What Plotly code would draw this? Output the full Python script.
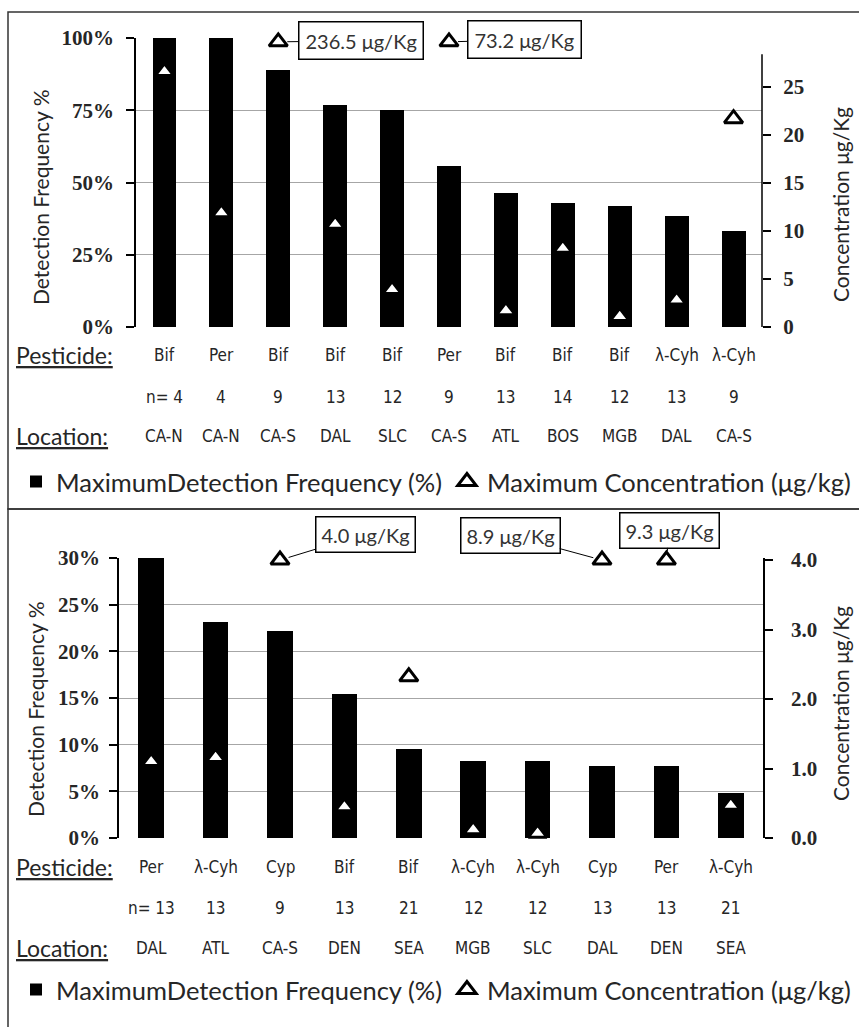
import plotly.graph_objects as go

W, H = 859, 1027

# ---------------- data: top panel ----------------
top_pesticide = ["Bif", "Per", "Bif", "Bif", "Bif", "Per", "Bif", "Bif", "Bif", "λ-Cyh", "λ-Cyh"]
top_n = [4, 4, 9, 13, 12, 9, 13, 14, 12, 13, 9]
top_location = ["CA-N", "CA-N", "CA-S", "DAL", "SLC", "CA-S", "ATL", "BOS", "MGB", "DAL", "CA-S"]
top_freq = [100, 100, 88.9, 76.9, 75.0, 55.6, 46.2, 42.9, 41.7, 38.5, 33.3]
top_conc = [26.6, 11.9, 236.5, 10.7, 3.9, 73.2, 1.7, 8.2, 1.1, 2.8, 21.7]

# ---------------- data: bottom panel ----------------
bot_pesticide = ["Per", "λ-Cyh", "Cyp", "Bif", "Bif", "λ-Cyh", "λ-Cyh", "Cyp", "Per", "λ-Cyh"]
bot_n = [13, 13, 9, 13, 21, 12, 12, 13, 13, 21]
bot_location = ["DAL", "ATL", "CA-S", "DEN", "SEA", "MGB", "SLC", "DAL", "DEN", "SEA"]
bot_freq = [30.8, 23.1, 22.2, 15.4, 9.5, 8.3, 8.3, 7.7, 7.7, 4.8]
bot_conc = [1.1, 1.16, 4.0, 0.45, 2.32, 0.12, 0.07, 8.9, 9.3, 0.47]

top_ticks_left = [0, 25, 50, 75, 100]
top_ticklabels_left = ["0%", "25%", "50%", "75%", "100%"]
top_ticks_right = [0, 5, 10, 15, 20, 25]
bot_ticks_left = [0, 5, 10, 15, 20, 25, 30]
bot_ticklabels_left = ["0%", "5%", "10%", "15%", "20%", "25%", "30%"]
bot_ticks_right = [0, 1, 2, 3, 4]
bot_ticklabels_right = ["0.0", "1.0", "2.0", "3.0", "4.0"]

BAR_NAME = "MaximumDetection Frequency (%)"
TRI_NAME = "Maximum Concentration (μg/kg)"

# ---------------- layout helpers ----------------
def px(x):
    return x / W

def py(y):
    return 1 - y / H

TOP_CAP = 29.7     # off-scale concentrations drawn at the top of the axis
BOT_CAP = 4.0

TEXT = "#262626"
GRID = "#A6A6A6"
TICKFONT = dict(family="Liberation Serif", size=21, color=TEXT, weight="bold")
LABFONT = dict(family="DejaVu Sans Condensed, Lato, sans-serif", size=17, color=TEXT)
ROWFONT = dict(family="Lato", size=23, color=TEXT)
TITLEFONT = dict(family="Lato", size=21, color=TEXT)
LEGFONT = dict(family="Lato", size=25.5, color=TEXT)
BOXFONT = dict(family="Lato", size=20, color="#333333")

fig = go.Figure()

tx = list(range(len(top_freq)))
bx = list(range(len(bot_freq)))

fig.add_trace(go.Bar(x=tx, y=top_freq, width=0.42, marker=dict(color="black", line=dict(width=0)),
                     name=BAR_NAME, xaxis="x", yaxis="y", legend="legend"))
fig.add_trace(go.Scatter(x=tx, y=[min(v, TOP_CAP) for v in top_conc], mode="markers",
                         marker=dict(symbol="triangle-up", size=16, color="white",
                                     line=dict(color="black", width=3)),
                         cliponaxis=False, name=TRI_NAME, xaxis="x", yaxis="y2", legend="legend"))

fig.add_trace(go.Bar(x=bx, y=bot_freq, width=0.40, marker=dict(color="black", line=dict(width=0)),
                     name=BAR_NAME, xaxis="x2", yaxis="y3", legend="legend2"))
fig.add_trace(go.Scatter(x=bx, y=[min(v, BOT_CAP) for v in bot_conc], mode="markers",
                         marker=dict(symbol="triangle-up", size=16, color="white",
                                     line=dict(color="black", width=3)),
                         cliponaxis=False, name=TRI_NAME, xaxis="x2", yaxis="y4", legend="legend2"))

axis_common = dict(showline=True, linecolor="black", linewidth=1.5, ticks="outside",
                   ticklen=8, tickcolor="black", tickwidth=1.5, tickfont=TICKFONT,
                   zeroline=False, automargin=False)
xcommon = dict(showticklabels=False, showgrid=False, zeroline=False, showline=False,
               ticks="", automargin=False)

fig.update_layout(
    width=W, height=H, margin=dict(l=0, r=0, t=0, b=0, autoexpand=False),
    paper_bgcolor="white", plot_bgcolor="white",
    bargap=0,
    xaxis=dict(domain=[px(136), px(762)], range=[-0.5, len(tx) - 0.5], anchor="y", **xcommon),
    yaxis=dict(domain=[py(327), py(38)], range=[0, 100], tickvals=top_ticks_left,
               ticktext=top_ticklabels_left, showgrid=True, gridcolor=GRID, gridwidth=1,
               ticklabelstandoff=8, anchor="x", **axis_common),
    yaxis2=dict(overlaying="y", side="right", range=[0, 30.1], tickvals=top_ticks_right,
                showgrid=False, anchor="x", ticklabelstandoff=8,
                **{**axis_common, "showline": False}),
    xaxis2=dict(domain=[px(119), px(763)], range=[-0.5, len(bx) - 0.5], anchor="y3", **xcommon),
    yaxis3=dict(domain=[py(838), py(558)], range=[0, 30], tickvals=bot_ticks_left,
                ticktext=bot_ticklabels_left, showgrid=True, gridcolor=GRID, gridwidth=1,
                ticklabelstandoff=5, anchor="x2", **axis_common),
    yaxis4=dict(overlaying="y3", side="right", range=[0, 4.03], tickvals=bot_ticks_right,
                ticktext=bot_ticklabels_right, showgrid=False, anchor="x2",
                ticklabelstandoff=14, **axis_common),
    legend=dict(orientation="h", x=px(16), y=py(482), xanchor="left", yanchor="middle",
                font=LEGFONT, itemwidth=30, bgcolor="rgba(0,0,0,0)", tracegroupgap=0),
    legend2=dict(orientation="h", x=px(16), y=py(990), xanchor="left", yanchor="middle",
                 font=LEGFONT, itemwidth=30, bgcolor="rgba(0,0,0,0)", tracegroupgap=0),
    showlegend=True,
)

annotations = []
shapes = []

# axis titles
for (x, y, t) in [(41, 198, "Detection Frequency %"), (840, 205, "Concentration μg/Kg"),
                  (35, 710, "Detection Frequency %"), (840, 704, "Concentration μg/Kg")]:
    annotations.append(dict(x=px(x), y=py(y), xref="paper", yref="paper", text=t, textangle=-90,
                            showarrow=False, font=TITLEFONT, xanchor="center", yanchor="middle"))

# row labels
def rows(xref, pest, ns, locs, y_p, y_n, y_l, label_x):
    annotations.append(dict(x=px(label_x), y=py(y_p), xref="paper", yref="paper",
                            text="<u>Pesticide:</u>", showarrow=False, xanchor="left",
                            yanchor="middle", font=ROWFONT))
    annotations.append(dict(x=px(label_x), y=py(y_l), xref="paper", yref="paper",
                            text="<u>Location:</u>", showarrow=False, xanchor="left",
                            yanchor="middle", font=ROWFONT))
    for i, (p, n, l) in enumerate(zip(pest, ns, locs)):
        annotations.append(dict(x=i, y=py(y_p), xref=xref, yref="paper", text=p,
                                showarrow=False, font=LABFONT, yanchor="middle"))
        annotations.append(dict(x=i, y=py(y_n), xref=xref, yref="paper",
                                text=("n= %d" % n) if i == 0 else str(n),
                                showarrow=False, font=LABFONT, yanchor="middle"))
        annotations.append(dict(x=i, y=py(y_l), xref=xref, yref="paper", text=l,
                                showarrow=False, font=LABFONT, yanchor="middle"))

rows("x", top_pesticide, top_n, top_location, 355, 397, 436, 14)
rows("x2", bot_pesticide, bot_n, bot_location, 867, 908, 948, 14)

# labels for off-scale / capped concentrations (ax, ay are box offsets in pixels)
top_box_offsets = {2: (83, -1), 5: (75, -2)}
bot_box_offsets = {2: (85, -26), 7: (-92, -25), 8: (3, -30)}

for i, v in enumerate(top_conc):
    if v >= TOP_CAP:
        ax, ay = top_box_offsets[i]
        annotations.append(dict(x=i, y=TOP_CAP, xref="x", yref="y2", text="%.1f μg/Kg" % v,
                                showarrow=True, arrowhead=0, arrowwidth=1, arrowcolor="black",
                                ax=ax, ay=ay, standoff=9, font=BOXFONT, bgcolor="white",
                                bordercolor="black", borderwidth=1.5, borderpad=6))
for i, v in enumerate(bot_conc):
    if v >= BOT_CAP:
        ax, ay = bot_box_offsets[i]
        annotations.append(dict(x=i, y=BOT_CAP, xref="x2", yref="y4", text="%.1f μg/Kg" % v,
                                showarrow=True, arrowhead=0, arrowwidth=1, arrowcolor="black",
                                ax=ax, ay=ay, standoff=9, font=BOXFONT, bgcolor="white",
                                bordercolor="black", borderwidth=1.5, borderpad=5))

# right axis line of the top panel (drawn from 0 up to just below the top)
shapes.append(dict(type="line", xref="paper", yref="y2", x0=px(762), x1=px(762), y0=0, y1=28.4,
                   line=dict(color="black", width=1.5)))
# panel frames
shapes.append(dict(type="rect", xref="paper", yref="paper", x0=px(8), x1=px(870), y0=py(509), y1=py(12),
                   line=dict(color="#333333", width=1.5), layer="below"))
shapes.append(dict(type="rect", xref="paper", yref="paper", x0=px(8), x1=px(870), y0=py(1040), y1=py(509),
                   line=dict(color="#333333", width=1.5), layer="below"))

fig.update_layout(annotations=annotations, shapes=shapes)
fig.write_html("out.html", config={"displayModeBar": False},
               post_script="document.body.style.margin='0';document.body.style.overflow='hidden';")
